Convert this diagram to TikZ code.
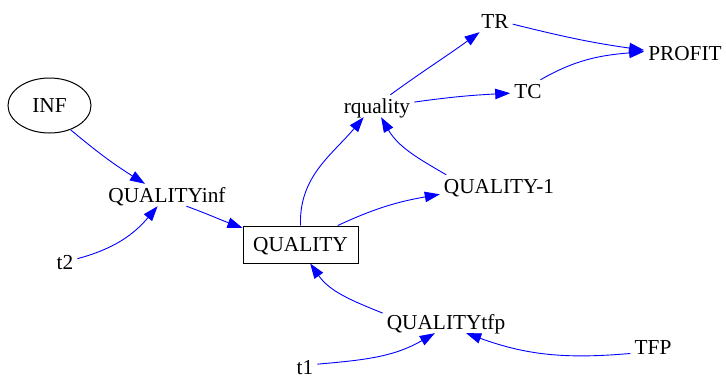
\documentclass[tikz,border=0pt]{standalone}
\usepackage{fontspec}
\setmainfont{Liberation Serif}
\newfontfamily\diagfont{Liberation Serif}
\usetikzlibrary{shapes.geometric,arrows.meta}
\begin{document}
\begin{tikzpicture}[x=1pt,y=-1pt,
  font=\diagfont\fontsize{21.3}{25}\selectfont,
  plain/.style={inner xsep=4pt,inner ysep=4pt,text height=14pt,text depth=0pt},
  ell/.style={draw,ellipse,line width=1pt,minimum width=83pt,minimum height=55pt,inner sep=0pt},
  boxnode/.style={draw,rectangle,line width=1pt,minimum width=115pt,minimum height=37pt,inner sep=0pt,text height=14pt,text depth=0pt},
  link/.style={draw=blue,line width=0.9pt,-{Triangle[length=15pt,width=10.5pt]},fill=none}]
\useasboundingbox (0,0) rectangle (726,378);
\node[ell] (INF) at (49.5,105.5) {INF};
\node[plain] (QUALITYinf) at (167,195) {QUALITYinf};
\node[plain] (t2) at (65,262) {t2};
\node[boxnode] (QUALITY) at (300.5,244.5) {QUALITY};
\node[plain] (rquality) at (377,106) {rquality};
\node[plain] (TR) at (495,21) {TR};
\node[plain] (TC) at (528,91) {TC};
\node[plain] (PROFIT) at (685,53) {PROFIT};
\node[plain] (QUALITY-1) at (499,186) {QUALITY-1};
\node[plain] (QUALITYtfp) at (446,322) {QUALITYtfp};
\node[plain] (TFP) at (653,347) {TFP};
\node[plain] (t1) at (305,367.5) {t1};

\draw[link] (INF.-49) to[out=-40,in=148] (QUALITYinf.153);
\draw[link] (t2.15) to[out=15,in=-130] (QUALITYinf.-130);
\draw[link] (QUALITYinf.-30) to[out=-20,in=160] (QUALITY.164);
\draw[link] (QUALITY.north) to[out=92,in=-130] (rquality.-140);
\draw[link] (QUALITY.27) to[out=25,in=190] (QUALITY-1.188);
\draw[link] (QUALITYtfp.172) to[out=158,in=-55] (QUALITY.-63);
\draw[link] (t1.15) to[out=5,in=-150] (QUALITYtfp.-135);
\draw[link] (TFP.196) to[out=185,in=-20] (QUALITYtfp.-29);
\draw[link] (rquality.40) to[out=36,in=-144] (TR.-144);
\draw[link] (rquality.6) to[out=8,in=183] (TC.187);
\draw[link] (QUALITY-1.168) to[out=150,in=-60] (rquality.-70);
\draw[link] (TR.-10) to[out=-14,in=172] (PROFIT.176);
\draw[link] (TC.42) to[out=30,in=-175] (PROFIT.178);
\end{tikzpicture}
\end{document}
